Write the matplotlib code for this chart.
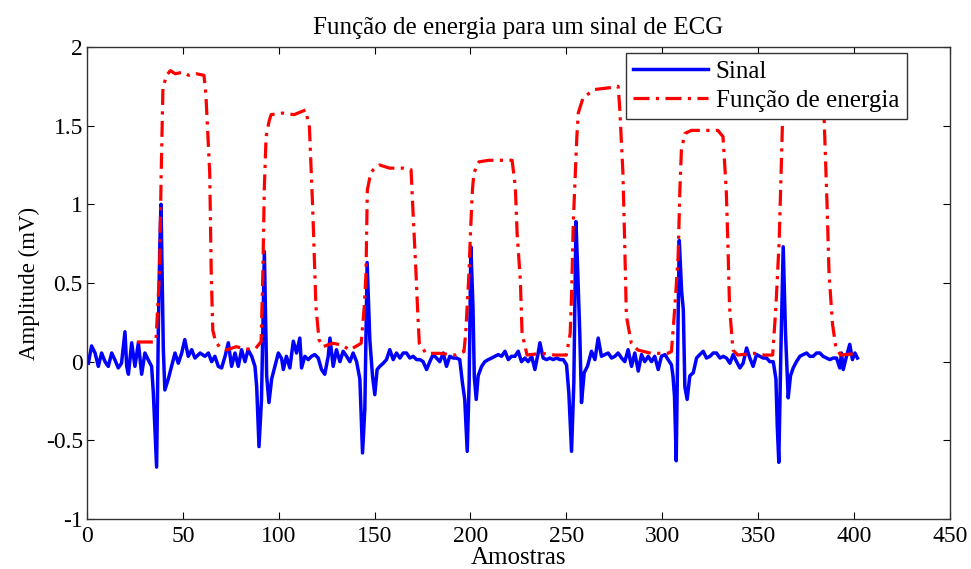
import numpy as np
import matplotlib
matplotlib.use("Agg")
import matplotlib.pyplot as plt
from matplotlib.ticker import FormatStrFormatter

# ── ECG signal (sample index, amplitude in mV) ────────────────────
sig_x = [0.7, 2.4, 4.2, 5.9, 7.6, 9.4, 11.1, 12.9, 14.6, 16.3, 18.0, 19.8, 20.7, 21.6,
         23.3, 25.0, 26.8, 28.5, 30.2, 32.0, 33.7, 34.6, 35.5, 36.3, 37.2, 38.0, 38.6,
         39.2, 39.8, 40.6, 42.4, 44.1, 45.9, 47.6, 49.4, 51.0, 52.8, 54.6, 56.3, 59.0,
         61.5, 63.3, 65.0, 66.7, 68.5, 70.2, 72.0, 73.7, 75.4, 77.2, 78.9, 80.6, 82.4,
         84.0, 85.9, 87.6, 88.5, 89.7, 91.0, 92.5, 93.7, 94.9, 96.3, 98.0, 99.8, 101.5,
         102.4, 104.0, 105.8, 107.6, 109.3, 111.0, 111.9, 113.6, 115.4, 117.1, 118.8,
         120.6, 122.3, 124.0, 125.8, 126.7, 128.4, 130.1, 131.9, 133.6, 135.4, 137.1,
         138.8, 140.6, 142.3, 143.7, 144.9, 146.1, 147.5, 148.9, 150.1, 151.3, 152.7,
         154.5, 156.2, 157.9, 159.7, 161.4, 163.2, 164.9, 166.6, 168.4, 170.1, 171.9,
         173.6, 175.3, 177.1, 178.8, 180.5, 182.3, 184.0, 185.8, 187.5, 189.2, 191.0,
         192.7, 194.4, 195.8, 197.0, 198.3, 199.3, 200.2, 201.3, 202.0, 203.0, 204.0,
         205.8, 207.5, 209.3, 211.0, 212.7, 214.5, 216.2, 218.0, 219.7, 221.4, 223.2,
         224.9, 226.6, 228.4, 230.1, 231.9, 233.6, 235.3, 236.2, 237.9, 239.7, 241.4,
         243.1, 244.9, 246.6, 248.4, 250.1, 251.3, 252.7, 253.9, 255.0, 256.0, 257.0,
         257.9, 259.3, 261.0, 263.1, 264.9, 266.6, 268.3, 270.1, 271.8, 273.6, 275.3,
         277.0, 278.8, 280.5, 282.2, 284.0, 285.7, 287.5, 289.2, 290.9, 292.7, 294.4,
         296.1, 297.9, 299.6, 301.4, 303.1, 304.8, 305.6, 306.4, 307.3, 308.2, 308.9,
         310.1, 311.0, 311.8, 313.0, 314.4, 316.2, 317.9, 319.6, 321.4, 323.1, 324.9,
         326.6, 328.3, 330.1, 331.8, 333.5, 335.3, 337.0, 338.8, 340.5, 342.2, 344.0,
         345.7, 347.4, 349.2, 350.9, 352.7, 354.4, 356.1, 357.9, 359.3, 360.0, 360.8,
         361.9, 363.1, 364.3, 365.7, 366.9, 368.3, 370.0, 371.8, 373.5, 375.3, 377.0,
         378.7, 380.5, 382.2, 383.9, 385.7, 387.4, 389.2, 390.9, 392.6, 393.5, 394.4,
         396.1, 397.8, 399.2, 400.5, 401.8]
sig_y = [-0.01, 0.10, 0.055, -0.03, 0.055, 0.0, -0.03, 0.055, 0.01, -0.04, -0.01, 0.19, -0.03, -0.08,
         0.12, -0.03, 0.12, -0.08, 0.055, 0.01, -0.03, -0.20, -0.45, -0.67, 0.20, 0.75, 1.0,
         0.55, 0.08, -0.18, -0.11, -0.03, 0.055, -0.01, 0.055, 0.14, 0.034, 0.076, 0.023, 0.055,
         0.034, 0.055, 0.0, 0.034, -0.03, -0.04, 0.034, 0.12, -0.03, 0.055, -0.03, 0.076, 0.0,
         0.076, 0.034, -0.03, -0.16, -0.54, -0.24, 0.70, -0.09, -0.26, -0.11, -0.03, 0.055, 0.02,
         -0.05, 0.034, -0.04, 0.13, 0.055, 0.15, -0.04, 0.034, 0.013, 0.034, 0.045,
         0.023, -0.05, -0.08, 0.034, 0.15, -0.03, 0.076, 0.0, 0.066, 0.034, 0.0,
         0.055, 0.0, -0.11, -0.58, -0.30, 0.63, 0.14, -0.09, -0.21, -0.05, -0.03,
         -0.01, 0.013, 0.076, 0.013, 0.055, 0.023, 0.055, 0.055, 0.023, 0.034, 0.013,
         0.013, 0.0, -0.05, 0.0, 0.045, 0.023, 0.0, 0.055, -0.03, 0.034, 0.023,
         0.023, 0.013, -0.135, -0.24, -0.57, -0.135, 0.73, 0.35, -0.10, -0.24, -0.09,
         -0.03, 0.0, 0.013, 0.023, 0.034, 0.045, 0.034, 0.066, 0.013, 0.034, 0.034,
         0.066, 0.0, 0.023, 0.0, 0.034, -0.05, 0.055, 0.12, 0.023, 0.013, 0.023,
         0.013, 0.023, 0.013, 0.013, -0.02, -0.20, -0.57, -0.135, 0.89, 0.55, 0.18,
         -0.26, -0.07, -0.03, 0.066, 0.013, 0.15, 0.034, 0.045, 0.055, 0.023, 0.034,
         0.055, 0.023, 0.0, 0.076, -0.03, 0.055, -0.06, 0.045, 0.0, 0.034, 0.0,
         0.034, -0.05, 0.034, 0.045, 0.013, -0.02, -0.09, -0.22, -0.63, 0.20, 0.77,
         0.45, 0.33, -0.16, -0.24, -0.09, -0.07, 0.023, 0.045, 0.066, 0.023, 0.034,
         0.055, 0.055, 0.023, 0.034, 0.023, -0.01, 0.045, 0.0, -0.04, -0.01, 0.087,
         0.023, -0.03, 0.045, 0.034, 0.023, 0.023, 0.0, 0.0, -0.11, -0.41, -0.64,
         0.076, 0.73, 0.18, -0.23, -0.09, -0.04, 0.0, 0.034, 0.045, 0.055, 0.034,
         0.034, 0.055, 0.055, 0.034, 0.023, 0.013, 0.023, 0.023, -0.04, 0.055, -0.05,
         0.034, 0.11, 0.013, 0.055, 0.023]

# ── Energy function ───────────────────────────────────────────────
en_x = [26, 35.5, 36, 37.8, 38.7, 39.6, 41.5, 43.5, 46, 50, 53, 57, 61, 62, 63, 64, 64.8,
        65.6, 67, 69, 72.6, 77.8, 83, 88, 90.8, 91.7, 92.5, 93.4, 95, 96, 102, 108, 114,
        116, 117.7, 119.4, 121, 123, 128, 133, 137, 143, 144.6, 145.5, 146.2, 148, 150,
        152.6, 157.8, 164.7, 169, 169.9, 171.6, 172.5, 173.3, 176.8, 183.7, 192.3, 196.6,
        197.5, 199.2, 200, 201, 201.8, 204.4, 209.6, 216.5, 221.7, 223.4, 224.3, 226,
        226.9, 229.5, 237.2, 244, 250, 252, 252.8, 253.6, 255.4, 256.2, 258.8, 264.8,
        271.8, 277, 277.8, 279.5, 280.4, 281.3, 283.9, 287.3, 294.2, 302.8, 304.8, 306.6,
        308.3, 309.2, 310, 311.8, 315.2, 322, 329, 331.7, 333.4, 334.3, 335.1, 336.9,
        339.4, 348.1, 353.3, 357.6, 359.3, 361, 362, 362.8, 364, 372, 383.5, 384.4, 386,
        387, 388.8, 390.5, 393, 400]
en_y = [0.125, 0.125, 0.14, 0.56, 1.2, 1.74, 1.82, 1.85, 1.83, 1.84, 1.82, 1.83, 1.82, 1.7,
        1.45, 1.2, 0.56, 0.2, 0.13, 0.095, 0.074, 0.095, 0.08, 0.085, 0.127, 0.56, 1.11,
        1.43, 1.53, 1.57, 1.58, 1.57, 1.6, 1.49, 0.98, 0.35, 0.14, 0.095, 0.117, 0.106,
        0.074, 0.117, 0.35, 0.56, 1.09, 1.2, 1.23, 1.25, 1.23, 1.23, 1.22, 0.985, 0.56,
        0.31, 0.117, 0.053, 0.053, 0.042, 0.064, 0.18, 0.56, 0.82, 1.09, 1.2, 1.27, 1.28,
        1.28, 1.28, 1.11, 0.82, 0.52, 0.18, 0.042, 0.053, 0.042, 0.042, 0.18, 0.46, 0.88,
        1.41, 1.58, 1.68, 1.73, 1.74, 1.75, 1.62, 1.2, 0.77, 0.29, 0.117, 0.074, 0.053,
        0.053, 0.064, 0.35, 0.67, 1.09, 1.345, 1.45, 1.47, 1.47, 1.47, 1.43, 1.09, 0.73,
        0.35, 0.074, 0.042, 0.053, 0.042, 0.042, 0.35, 0.77, 1.2, 1.56, 1.62, 1.63, 1.62,
        1.56, 0.985, 0.56, 0.24, 0.095, 0.042, 0.05]

x_ticks = [0, 50, 100, 150, 200, 250, 300, 350, 400, 450]
y_ticks = [-1, -0.5, 0, 0.5, 1, 1.5, 2]

# ── Style ─────────────────────────────────────────────────────────
plt.rcParams.update({
    "font.family": ["Liberation Serif", "DejaVu Serif"],
    "font.size": 17,
    "axes.unicode_minus": False,
    "xtick.direction": "in",
    "ytick.direction": "in",
    "xtick.top": True,
    "ytick.right": True,
    "xtick.major.size": 5,
    "ytick.major.size": 5,
})

fig = plt.figure(figsize=(9.71, 5.69), dpi=100)
ax = fig.add_axes([0.0896, 0.0879, 0.8886, 0.8295])

ax.plot(sig_x, sig_y, color="#0000ff", lw=2.5, label="Sinal")
ax.plot(en_x, en_y, color="#ff0000", lw=2.3, linestyle=(0, (5, 2, 1, 2)),
        label="Função de energia")

ax.set_xlim(0, 450)
ax.set_ylim(-1, 2)
ax.set_xticks(x_ticks)
ax.set_yticks(y_ticks)
ax.yaxis.set_major_formatter(FormatStrFormatter("%g"))
ax.tick_params(axis="y", labelsize=17, pad=3)
ax.tick_params(axis="x", labelsize=17, pad=5)
for sp in ax.spines.values():
    sp.set_color("#333333")
    sp.set_linewidth(1.0)

ax.set_title("Função de energia para um sinal de ECG", fontsize=18, pad=9)
ax.set_xlabel("Amostras", fontsize=18, labelpad=0)
ax.set_ylabel("Amplitude (mV)", fontsize=16.5, labelpad=4)

leg = ax.legend(loc="upper right", bbox_to_anchor=(0.950, 0.987), borderaxespad=0,
                fancybox=False, framealpha=1, edgecolor="#333333", fontsize=18,
                handlelength=3.0, borderpad=0.3, labelspacing=0.25, handletextpad=0.3)
leg.get_frame().set_linewidth(1.0)

fig.savefig("out.png", dpi=100)
